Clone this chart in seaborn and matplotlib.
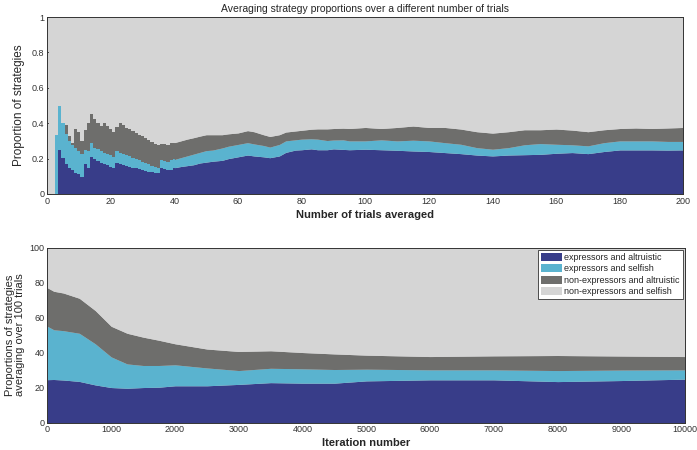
import numpy as np
import pandas as pd
import seaborn as sns
import matplotlib
matplotlib.use('Agg')
import matplotlib.pyplot as plt

# ---- top panel: cumulative upper boundary of each strategy layer (proportion) ----
trials = list(range(1, 41)) + [42, 44, 46, 48, 50, 52, 55, 57, 60, 63, 65, 68, 70, 73,
                               75, 78, 80, 83, 85, 88, 90, 93] + list(range(95, 201, 5))

top_expr_altr = [0, 0, 0, 0.25, 0.205, 0.17, 0.148, 0.133, 0.12, 0.11,
                 0.095, 0.167, 0.148, 0.209, 0.196, 0.186, 0.177, 0.167, 0.162, 0.154,
                 0.148, 0.177, 0.171, 0.163, 0.158, 0.154, 0.148, 0.144, 0.139, 0.135,
                 0.129, 0.125, 0.124, 0.12, 0.116, 0.148, 0.143, 0.137, 0.133, 0.148,
                 0.155, 0.16, 0.165, 0.175, 0.18, 0.185, 0.19, 0.2, 0.21, 0.22,
                 0.215, 0.21, 0.205, 0.215, 0.235, 0.248, 0.25, 0.255, 0.25, 0.25,
                 0.255, 0.252,
                 0.25, 0.253, 0.25, 0.247, 0.243, 0.24, 0.234, 0.228, 0.22, 0.215,
                 0.22, 0.222, 0.224, 0.23, 0.234, 0.228, 0.24, 0.249, 0.249, 0.249,
                 0.248, 0.249]
top_expr_self = [0, 0, 0.333, 0.5, 0.40, 0.338, 0.30, 0.278, 0.262, 0.243,
                 0.224, 0.25, 0.243, 0.29, 0.262, 0.253, 0.243, 0.234, 0.224, 0.22,
                 0.209, 0.243, 0.234, 0.224, 0.219, 0.213, 0.205, 0.2, 0.194, 0.18,
                 0.175, 0.167, 0.16, 0.152, 0.145, 0.19, 0.185, 0.18, 0.19, 0.195,
                 0.205, 0.215, 0.225, 0.235, 0.245, 0.248, 0.26, 0.27, 0.28, 0.29,
                 0.283, 0.274, 0.265, 0.28, 0.3, 0.306, 0.31, 0.312, 0.31, 0.302,
                 0.305, 0.306,
                 0.30, 0.30, 0.306, 0.30, 0.304, 0.30, 0.29, 0.281, 0.262, 0.253,
                 0.262, 0.278, 0.285, 0.281, 0.278, 0.272, 0.29, 0.30, 0.30, 0.30,
                 0.297, 0.297]
top_nonexpr_altr = [0, 0, 0.333, 0.5, 0.40, 0.39, 0.33, 0.29, 0.37, 0.35,
                    0.30, 0.36, 0.40, 0.45, 0.425, 0.40, 0.385, 0.40, 0.385, 0.37,
                    0.35, 0.38, 0.40, 0.39, 0.375, 0.365, 0.355, 0.345, 0.335, 0.325,
                    0.315, 0.305, 0.295, 0.285, 0.275, 0.285, 0.28, 0.275, 0.29, 0.29,
                    0.30, 0.31, 0.318, 0.327, 0.335, 0.335, 0.335, 0.34, 0.345, 0.358,
                    0.352, 0.335, 0.325, 0.335, 0.35, 0.356, 0.36, 0.366, 0.368, 0.368,
                    0.37, 0.372,
                    0.37, 0.376, 0.37, 0.376, 0.384, 0.376, 0.376, 0.367, 0.352, 0.344,
                    0.352, 0.363, 0.363, 0.367, 0.361, 0.352, 0.363, 0.37, 0.373, 0.37,
                    0.373, 0.376]

# ---- bottom panel: cumulative boundaries in percent ----
iterations = [0, 100, 250, 500, 750, 1000, 1250, 1500, 1750, 2000, 2500, 3000,
              3500, 4000, 4500, 5000, 6000, 7000, 8000, 9000, 10000]
bot_expr_altr = [24.5, 24.6, 24.3, 23.5, 21.5, 20.0, 19.6, 20.0, 20.2, 21.0, 21.0, 21.8,
                 22.8, 22.5, 22.5, 23.8, 24.4, 24.4, 23.4, 24.0, 24.8]
bot_expr_self = [55.0, 53.0, 52.5, 51.0, 45.0, 37.5, 33.5, 32.6, 32.6, 33.0, 31.2, 29.7,
                 31.0, 30.7, 30.3, 30.5, 30.1, 30.1, 29.7, 30.0, 30.1]
bot_nonexpr_altr = [77.0, 75.0, 74.0, 71.0, 64.0, 55.0, 51.0, 48.8, 47.0, 45.0, 42.0, 40.6,
                    41.0, 40.0, 39.2, 38.5, 37.7, 38.1, 38.3, 38.0, 37.7]

labels = ['expressors and altruistic', 'expressors and selfish',
          'non-expressors and altruistic', 'non-expressors and selfish']
colors = ['#383d89', '#5ab3cf', '#6e6e6c', '#d5d5d5']

sns.set_style('ticks')
plt.rcParams['font.family'] = ['Liberation Sans', 'DejaVu Sans']
plt.rcParams['xtick.direction'] = 'in'
plt.rcParams['ytick.direction'] = 'in'
plt.rcParams['xtick.major.size'] = 3
plt.rcParams['ytick.major.size'] = 3
plt.rcParams['xtick.labelsize'] = 6.5
plt.rcParams['ytick.labelsize'] = 6.5
plt.rcParams['xtick.color'] = '#333333'
plt.rcParams['ytick.color'] = '#333333'

fig = plt.figure(figsize=(6.97, 4.5), dpi=100)
ax1 = fig.add_axes([0.0675, 0.569, 0.913, 0.393])
ax2 = fig.add_axes([0.068, 0.061, 0.915, 0.389])

# top: one step per averaged trial where each trial was read, joined lines after that
t = np.array(trials, dtype=float)
layers = [np.zeros(len(t)), np.array(top_expr_altr), np.array(top_expr_self),
          np.array(top_nonexpr_altr), np.ones(len(t))]
n_step = 40
edges = np.concatenate([t[:n_step] - 0.5, [t[n_step - 1] + 0.5]])
ax1.set_facecolor(colors[3])
for i in range(4):
    ax1.stairs(layers[i + 1][:n_step], edges, baseline=layers[i][:n_step], fill=True,
               color=colors[i], linewidth=0)
    ax1.fill_between(t[n_step - 1:], layers[i][n_step - 1:], layers[i + 1][n_step - 1:],
                     color=colors[i], linewidth=0)
ax1.set_xlim(0, 200)
ax1.set_ylim(0, 1)
ax1.set_xticks(range(0, 201, 20))
ax1.set_yticks([0, 0.2, 0.4, 0.6, 0.8, 1])
ax1.set_yticklabels(['0', '0.2', '0.4', '0.6', '0.8', '1'])
ax1.set_title('Averaging strategy proportions over a different number of trials',
              fontsize=7.5, pad=4)
ax1.set_xlabel('Number of trials averaged', fontsize=8, fontweight='bold', labelpad=3)
ax1.set_ylabel('Proportion of strategies', fontsize=8.5, labelpad=5)

# bottom: layers over iterations
it = np.array(iterations, dtype=float)
blayers = [np.zeros(len(it)), np.array(bot_expr_altr), np.array(bot_expr_self),
           np.array(bot_nonexpr_altr), np.full(len(it), 100.0)]
ax2.set_facecolor(colors[3])
for i in range(4):
    ax2.fill_between(it, blayers[i], blayers[i + 1], color=colors[i],
                     linewidth=0, label=labels[i])
ax2.set_xlim(0, 10000)
ax2.set_ylim(0, 100)
ax2.set_xticks(range(0, 10001, 1000))
ax2.set_yticks(range(0, 101, 20))
ax2.set_xlabel('Iteration number', fontsize=8, fontweight='bold', labelpad=3)
ax2.set_ylabel('Proportions of strategies\naveraging over 100 trials', fontsize=8,
               labelpad=3, linespacing=1.05)
leg = ax2.legend(loc='upper right', fontsize=6.5, frameon=True, fancybox=False,
                 handlelength=2.4, handleheight=1.0, borderpad=0.35, labelspacing=0.25,
                 handletextpad=0.2, borderaxespad=0.25)
leg.get_frame().set_edgecolor('#333333')
leg.get_frame().set_linewidth(0.6)
leg.get_frame().set_facecolor('white')
leg.get_frame().set_alpha(1)

for ax in (ax1, ax2):
    ax.tick_params(top=True, right=True, width=0.6, pad=2)
    for s in ax.spines.values():
        s.set_color('#333333')
        s.set_linewidth(0.7)

fig.savefig('out.png', dpi=100)
